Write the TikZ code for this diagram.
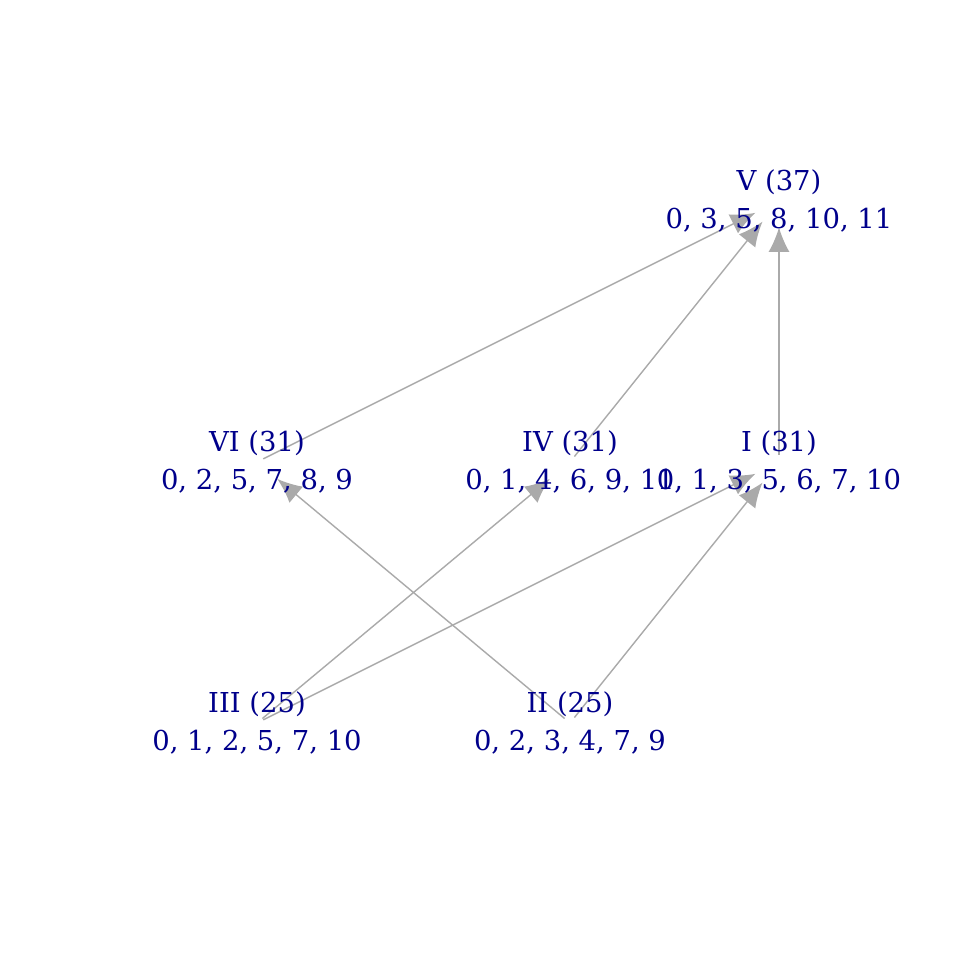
\documentclass[tikz,border=0pt]{standalone}
\usepackage{fontspec}
\setmainfont{DejaVu Serif}
\usetikzlibrary{arrows.meta}
\definecolor{lbl}{RGB}{0,0,139}
\definecolor{edge}{RGB}{170,170,170}
\begin{document}
\begin{tikzpicture}[x=0.01cm,y=-0.01cm,
  lab/.style={text=lbl,font=\fontsize{7.8}{10.7}\selectfont,align=center,inner sep=0pt},
  ed/.style={draw=edge,line width=0.4pt,-{Latex[length=7pt,width=6pt]},shorten >=26\pgflinewidth*0+7.5pt,shorten <=2pt}]
\useasboundingbox (0,0) rectangle (960,960);
\coordinate (V) at (779,201);
\coordinate (VI) at (257,462);
\coordinate (IV) at (570,462);
\coordinate (I) at (779,462);
\coordinate (III) at (257,723);
\coordinate (II) at (570,723);
\draw[ed] (VI) -- (V);
\draw[ed] (IV) -- (V);
\draw[ed] (I) -- (V);
\draw[ed] (III) -- (IV);
\draw[ed] (III) -- (I);
\draw[ed] (II) -- (VI);
\draw[ed] (II) -- (I);
\node[lab] (nV) at (V) {V (37)\\0, 3, 5, 8, 10, 11};
\node[lab] (nVI) at (VI) {VI (31)\\0, 2, 5, 7, 8, 9};
\node[lab] (nIV) at (IV) {IV (31)\\0, 1, 4, 6, 9, 11};
\node[lab] (nI) at (I) {I (31)\\0, 1, 3, 5, 6, 7, 10};
\node[lab] (nIII) at (III) {III (25)\\0, 1, 2, 5, 7, 10};
\node[lab] (nII) at (II) {II (25)\\0, 2, 3, 4, 7, 9};
\end{tikzpicture}
\end{document}
